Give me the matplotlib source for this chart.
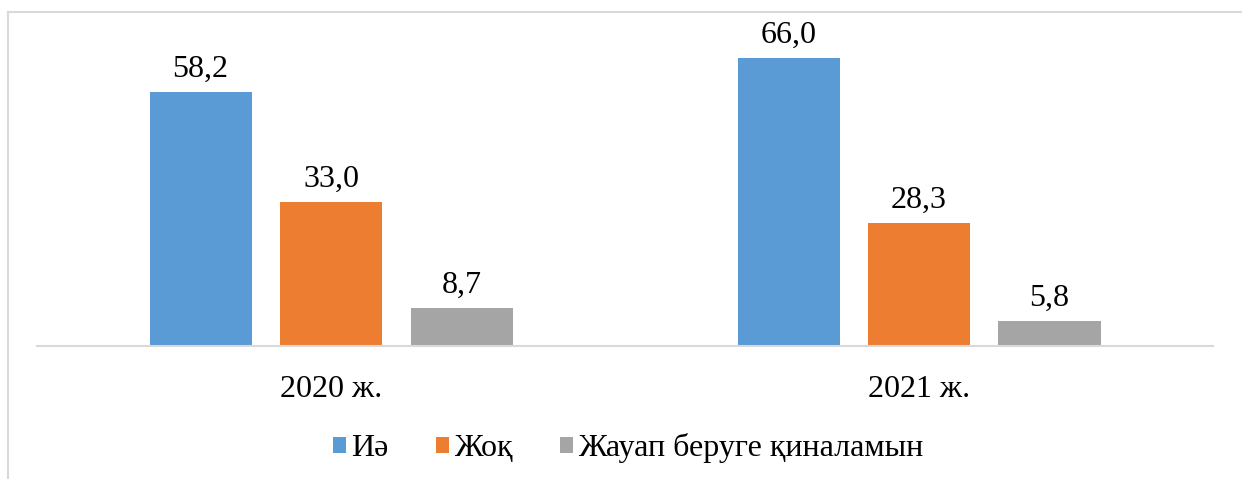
import matplotlib
matplotlib.use("Agg")
import matplotlib.pyplot as plt
from matplotlib.patches import Patch
from matplotlib.lines import Line2D
import numpy as np

plt.rcParams['font.family'] = ['Liberation Serif', 'DejaVu Serif']

categories = ["2020 ж.", "2021 ж."]
series_names = ["Иә", "Жоқ", "Жауап беруге қиналамын"]
yes_vals = [58.2, 66.0]
no_vals = [33.0, 28.3]
hard_vals = [8.7, 5.8]
value_labels = [["58,2", "66,0"], ["33,0", "28,3"], ["8,7", "5,8"]]
colors = ["#5B9BD5", "#ED7D31", "#A5A5A5"]

W, H = 1242, 479
fig = plt.figure(figsize=(W / 100, H / 100), dpi=100)
left, right, base, top = 37, 1213, 346, 12
ax = fig.add_axes([left / W, (H - base) / H, (right - left) / W, (base - top) / H])

scale = 4.36  # px per unit
ax.set_ylim(0, (base - top) / scale)
ax.set_xlim(-0.5, 1.5)

x = np.arange(len(categories))
bw = 102 / 588
step = 130.5 / 588
all_vals = [yes_vals, no_vals, hard_vals]
for i, (vals, col) in enumerate(zip(all_vals, colors)):
    pos = x + (i - 1) * step
    ax.bar(pos, vals, width=bw, color=col, zorder=2)
    for p, v, lab in zip(pos, vals, value_labels[i]):
        ax.annotate(lab, (p, v), xytext=(0, 11), textcoords="offset points",
                    ha="center", va="baseline", fontsize=23, color="#000000")

for s in ["top", "right", "left"]:
    ax.spines[s].set_visible(False)
ax.spines["bottom"].set_color("#D9D9D9")
ax.spines["bottom"].set_linewidth(1.5)
ax.set_yticks([])
ax.set_xticks(x)
ax.set_xticklabels(categories, fontsize=23)
ax.tick_params(axis="x", length=0, pad=21)

handles = [Patch(facecolor=c, edgecolor="none") for c in colors]
fig.legend(handles, series_names, loc="center", bbox_to_anchor=(628 / W, 1 - 448 / H),
           ncol=3, frameon=False, fontsize=23, handlelength=0.4, handleheight=0.4,
           handletextpad=0.15, columnspacing=1.5)

# outer chart frame (partially cropped)
fc = "#D9D9D9"
fig.add_artist(Line2D([7.5 / W, 7.5 / W], [0, 1 - 11.5 / H], color=fc, lw=1.5, transform=fig.transFigure))
fig.add_artist(Line2D([7.5 / W, 1.0], [1 - 11.5 / H, 1 - 11.5 / H], color=fc, lw=1.5, transform=fig.transFigure))

fig.savefig("out.png", dpi=100)
